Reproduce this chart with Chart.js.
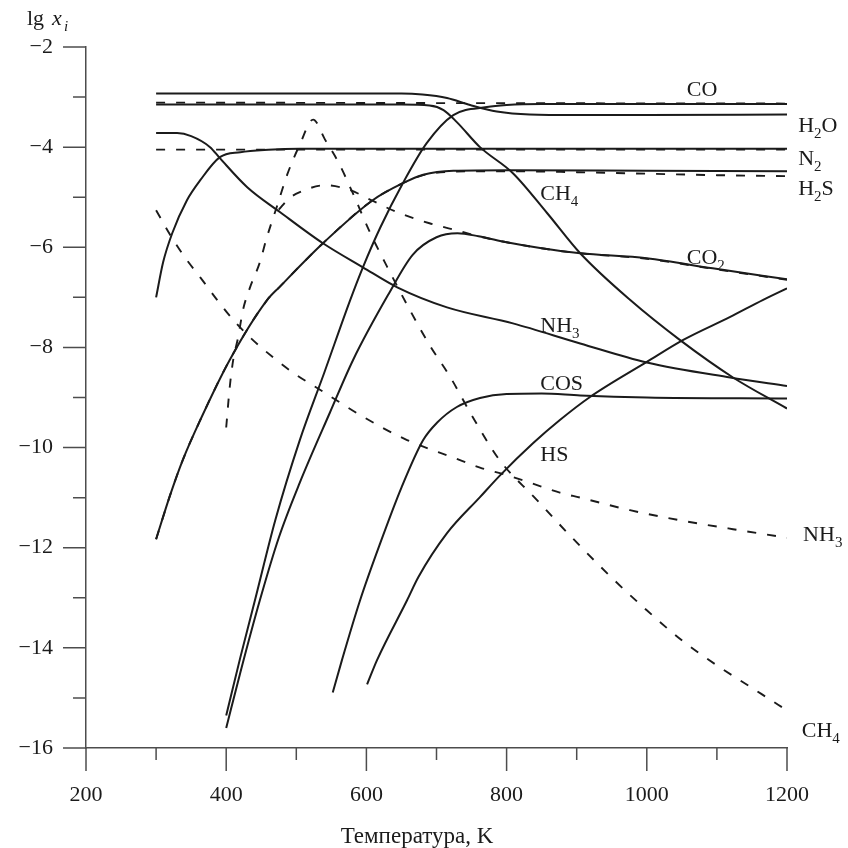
<!DOCTYPE html>
<html>
<head>
<meta charset="utf-8">
<script src="https://cdn.jsdelivr.net/npm/chart.js@4.4.1/dist/chart.umd.min.js"></script>
<style>
  html, body { margin: 0; padding: 0; background: #fff; }
  #wrap { width: 848px; height: 848px; }
</style>
</head>
<body>
<div id="wrap"><canvas id="chart" width="848" height="848"></canvas></div>
<script>
// Температура, K (ось X) и lg x_i (ось Y)
const xTicks = [200, 400, 600, 800, 1000, 1200];
const yTicks = [-2, -4, -6, -8, -10, -12, -14, -16];

// сплошные кривые: [T, lg x]
const h2oSolid = [[300,-2.93],[400,-2.93],[500,-2.93],[600,-2.93],[650,-2.93],[680,-2.95],[715,-3.02],[748,-3.16],[786,-3.29],[833,-3.35],[900,-3.36],[1000,-3.36],[1200,-3.35]];
const ch4Solid = [[300,-3.15],[500,-3.15],[650,-3.15],[690,-3.17],[710,-3.26],[729,-3.5],[762,-4.0],[809,-4.52],[858,-5.32],[905,-6.12],[976,-7.05],[1047,-7.85],[1123,-8.6],[1200,-9.22]];
const coSolid = [[400,-15.35],[420,-14.2],[441,-13.05],[470,-11.45],[505,-9.85],[540,-8.5],[577,-7.05],[595,-6.4],[620,-5.6],[652,-4.72],[686,-3.92],[724,-3.36],[772,-3.2],[800,-3.16],[850,-3.14],[1000,-3.14],[1200,-3.14]];
const co2Solid = [[400,-15.6],[420,-14.5],[448,-13.05],[475,-11.8],[505,-10.7],[548,-9.3],[581,-8.25],[631,-6.95],[666,-6.15],[700,-5.8],[730,-5.72],[760,-5.78],[800,-5.9],[850,-6.02],[905,-6.12],[1000,-6.22],[1094,-6.42],[1200,-6.64]];
const n2Solid = [[300,-7.0],[310,-6.3],[323,-5.72],[344,-5.06],[363,-4.66],[391,-4.2],[420,-4.1],[460,-4.05],[505,-4.03],[800,-4.03],[1200,-4.03]];
const h2sSolid = [[300,-11.83],[320,-10.95],[338,-10.25],[363,-9.45],[405,-8.25],[458,-7.06],[477,-6.78],[538,-5.92],[609,-5.06],[652,-4.72],[681,-4.55],[724,-4.47],[800,-4.46],[1000,-4.47],[1200,-4.48]];
const nh3Solid = [[300,-3.72],[330,-3.72],[350,-3.78],[377,-4.0],[391,-4.22],[430,-4.8],[477,-5.3],[538,-5.92],[595,-6.4],[644,-6.8],[715,-7.2],[809,-7.52],[905,-7.92],[1000,-8.3],[1119,-8.6],[1200,-8.77]];
const cosSolid = [[552,-14.89],[565,-14.25],[591,-13.05],[620,-11.9],[650,-10.8],[681,-9.85],[701,-9.5],[729,-9.19],[762,-9.01],[800,-8.93],[850,-8.92],[905,-8.96],[1000,-9.0],[1200,-9.02]];
const hsSolid = [[601,-14.73],[615,-14.25],[658,-13.05],[674,-12.59],[715,-11.71],[762,-10.99],[791,-10.55],[838,-9.91],[876,-9.45],[919,-8.99],[1000,-8.29],[1052,-7.85],[1119,-7.39],[1166,-7.05],[1200,-6.82]];

// штриховые кривые
const coDash = [[300,-3.11],[700,-3.12],[1200,-3.13]];
const n2Dash = [[300,-4.05],[1200,-4.05]];
const h2sDash = [[300,-11.83],[320,-10.95],[338,-10.25],[363,-9.45],[405,-8.25],[458,-7.06],[477,-6.78],[538,-5.92],[609,-5.06],[652,-4.72],[681,-4.56],[724,-4.49],[800,-4.48],[900,-4.5],[1000,-4.53],[1100,-4.56],[1200,-4.58]];
const ch4Dash = [[400,-9.6],[405,-8.8],[410,-8.25],[417,-7.8],[424,-7.25],[434,-6.8],[448,-6.3],[458,-5.8],[472,-5.2],[487,-4.55],[505,-3.95],[524,-3.45],[541,-3.85],[560,-4.3],[580,-4.9],[605,-5.7],[630,-6.4],[660,-7.2],[690,-7.95],[720,-8.6],[750,-9.35],[790,-10.25],[840,-11.0],[890,-11.75],[950,-12.6],[1000,-13.25],[1050,-13.85],[1100,-14.35],[1150,-14.8],[1200,-15.25]];
const co2Dash = [[475,-5.25],[490,-5.02],[505,-4.9],[541,-4.76],[575,-4.85],[610,-5.08],[644,-5.3],[690,-5.52],[723,-5.64],[760,-5.78],[800,-5.9],[850,-6.02],[905,-6.12],[1000,-6.23],[1094,-6.43],[1200,-6.65]];
const nh3Dash = [[300,-5.26],[320,-5.75],[341,-6.2],[363,-6.6],[387,-7.05],[410,-7.45],[434,-7.8],[467,-8.2],[495,-8.5],[540,-8.9],[591,-9.35],[658,-9.85],[724,-10.2],[762,-10.4],[800,-10.55],[833,-10.7],[876,-10.9],[905,-11.0],[976,-11.25],[1047,-11.45],[1123,-11.63],[1200,-11.8]];

// подписи кривых: части текста (второй элемент 'sub' — нижний индекс) и точка привязки [T, lg x]
const curveLabels = [
  { parts: [['CO']], at: [1057, -2.97] },
  { parts: [['H'], ['2', 'sub'], ['O']], at: [1216, -3.7] },
  { parts: [['N'], ['2', 'sub']], at: [1216, -4.36] },
  { parts: [['H'], ['2', 'sub'], ['S']], at: [1216, -4.96] },
  { parts: [['CH'], ['4', 'sub']], at: [848, -5.06] },
  { parts: [['CO'], ['2', 'sub']], at: [1057, -6.34] },
  { parts: [['NH'], ['3', 'sub']], at: [848, -7.69] },
  { parts: [['COS']], at: [848, -8.85] },
  { parts: [['HS']], at: [848, -10.27] },
  { parts: [['NH'], ['3', 'sub']], at: [1223, -11.87] },
  { parts: [['CH'], ['4', 'sub']], at: [1221, -15.79] }
];

const INK = '#1b1b1b';
const AXIS = '#4d4d4d';
const SERIF = '"Liberation Serif", "DejaVu Serif", serif';

const toPoints = arr => arr.map(p => ({ x: p[0], y: p[1] }));

function series(arr, dashed) {
  return {
    data: toPoints(arr),
    borderColor: INK,
    borderWidth: dashed ? 1.9 : 2,
    borderDash: dashed ? [9, 11] : [],
    pointRadius: 0,
    fill: false,
    cubicInterpolationMode: 'monotone'
  };
}

const minus = v => (v < 0 ? '\u2212' + Math.abs(v) : String(v));

// засечки, подписи осей и кривых
const decor = {
  id: 'decor',
  afterDraw(chart) {
    const { ctx, scales: { x, y } } = chart;
    const x0 = x.left, yb = y.bottom;
    ctx.save();
    ctx.strokeStyle = AXIS;
    ctx.lineWidth = 1.5;
    ctx.beginPath();
    for (let t = 200; t <= 1200; t += 100) {
      const px = x.getPixelForValue(t);
      ctx.moveTo(px, yb);
      ctx.lineTo(px, yb + (t % 200 === 0 ? 23 : 12));
    }
    for (let v = -16; v <= -2; v += 1) {
      const py = y.getPixelForValue(v);
      ctx.moveTo(x0, py);
      ctx.lineTo(x0 - (v % 2 === 0 ? 23 : 13), py);
    }
    ctx.stroke();

    ctx.fillStyle = INK;
    ctx.textBaseline = 'alphabetic';
    ctx.textAlign = 'left';
    // lg x_i
    ctx.font = '22px ' + SERIF;
    ctx.fillText('lg', 27, 25);
    ctx.font = 'italic 22px ' + SERIF;
    ctx.fillText('x', 52, 25);
    ctx.font = 'italic 15px ' + SERIF;
    ctx.fillText('i', 64, 31);

    // Температура, K
    ctx.textAlign = 'center';
    ctx.font = '23px ' + SERIF;
    ctx.fillText('Температура, K', 417, 843);

    ctx.textAlign = 'left';
    curveLabels.forEach(lbl => {
      let px = x.getPixelForValue(lbl.at[0]);
      const py = y.getPixelForValue(lbl.at[1]);
      lbl.parts.forEach(([txt, kind]) => {
        const sub = kind === 'sub';
        ctx.font = (sub ? '15px ' : '22px ') + SERIF;
        ctx.fillText(txt, px, py + (sub ? 6 : 0));
        px += ctx.measureText(txt).width;
      });
    });
    ctx.restore();
  }
};

new Chart(document.getElementById('chart'), {
  type: 'line',
  data: {
    datasets: [
      series(h2oSolid), series(ch4Solid), series(coSolid), series(co2Solid),
      series(n2Solid), series(h2sSolid), series(nh3Solid), series(cosSolid), series(hsSolid),
      series(coDash, true), series(n2Dash, true), series(h2sDash, true),
      series(ch4Dash, true), series(co2Dash, true), series(nh3Dash, true)
    ]
  },
  options: {
    responsive: false,
    animation: false,
    layout: { padding: { top: 47, right: 61, bottom: 0, left: 0 } },
    plugins: { legend: { display: false }, tooltip: { enabled: false } },
    scales: {
      x: {
        type: 'linear',
        min: 200,
        max: 1200,
        afterFit: s => { s.height = 100; },
        afterBuildTicks: s => { s.ticks = xTicks.map(v => ({ value: v })); },
        grid: { display: false, drawTicks: false },
        border: { display: true, color: AXIS, width: 1.5 },
        ticks: {
          padding: 34,
          color: INK,
          font: { family: SERIF, size: 22 },
          maxRotation: 0,
          callback: v => String(v)
        }
      },
      y: {
        min: -16,
        max: -2,
        afterFit: s => { s.width = 86; },
        afterBuildTicks: s => { s.ticks = yTicks.map(v => ({ value: v })); },
        grid: { display: false, drawTicks: false },
        border: { display: true, color: AXIS, width: 1.5 },
        ticks: {
          padding: 33,
          color: INK,
          font: { family: SERIF, size: 22 },
          callback: v => minus(v)
        }
      }
    }
  },
  plugins: [decor]
});
</script>
</body>
</html>
